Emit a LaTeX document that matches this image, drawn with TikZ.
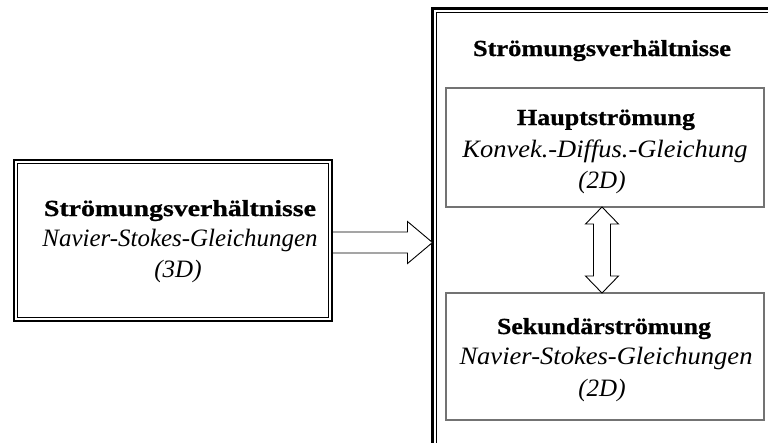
\documentclass[tikz,border=0pt]{standalone}
\usepackage{fontspec}
\usepackage{graphicx}
\setmainfont{Liberation Serif}[BoldFeatures={FakeBold=0.8}]
\usetikzlibrary{calc}
\newcommand{\fw}[2]{\resizebox{#1pt}{\height}{#2}}
\tikzset{
  frameouter/.style={draw=black, line width=2.5pt, inner sep=0pt, outer sep=0pt},
  frameinner/.style={draw=black, line width=1pt},
  subbox/.style={draw=black!55, line width=1.3pt, inner sep=0pt, outer sep=0pt},
  bftxt/.style={font=\fontsize{23}{27}\selectfont\bfseries, anchor=base, inner sep=0pt},
  ittxt/.style={font=\fontsize{25}{29}\selectfont\itshape, anchor=base, inner sep=0pt},
  bigarrow/.style={draw=black, line width=0.9pt, fill=white, line join=miter}
}
\begin{document}
\begin{tikzpicture}[x=1pt, y=-1pt]
\path[use as bounding box] (0,0) rectangle (768,442);
\clip (0,0) rectangle (768,442);
\fill[white] (0,0) rectangle (768,442);

% left box
\node[frameouter, minimum width=318pt, minimum height=161pt] (L) at (173,240.5) {};
\draw[frameinner] ([shift={(3.5,3.5)}]L.north west) rectangle ([shift={(-3.5,-3.5)}]L.south east);
\node[bftxt] (Lt1) at (180,216) {\fw{272}{Strömungsverhältnisse}};
\node[ittxt] (Lt2) at (180,246) {\fw{275}{Navier-Stokes-Gleichungen}};
\node[ittxt] (Lt3) at (178,277) {(3D)};

% right box
\node[frameouter, minimum width=357.5pt, minimum height=461.5pt] (R) at (611.25,239.25) {};
\draw[frameinner] ([shift={(3.5,3.5)}]R.north west) rectangle ([shift={(-3.5,-3.5)}]R.south east);
\node[bftxt] (Rt) at (602,56) {\fw{258}{Strömungsverhältnisse}};

% inner boxes
\node[subbox, minimum width=318pt, minimum height=119pt] (H) at (605,147.5) {};
\node[bftxt] (Ht1) at (606,125) {\fw{178}{Hauptströmung}};
\node[ittxt] (Ht2) at (605,157) {\fw{285}{Konvek.-Diffus.-Gleichung}};
\node[ittxt] (Ht3) at (602,188) {(2D)};

\node[subbox, minimum width=318pt, minimum height=127pt] (S) at (605,356.5) {};
\node[bftxt] (St1) at (604,334) {\fw{214}{Sekundärströmung}};
\node[ittxt] (St2) at (606,364) {\fw{293}{Navier-Stokes-Gleichungen}};
\node[ittxt] (St3) at (602,396) {(2D)};

% horizontal arrow
\coordinate (hs) at ($(L.east)+(1.2,2)$);
\coordinate (ht) at (R.west |- hs);
\draw[bigarrow] ($(hs)+(0,-10.5)$) -- ($(ht)+(-25,-10.5)$) -- ($(ht)+(-25,-21)$) -- (ht)
  -- ($(ht)+(-25,21)$) -- ($(ht)+(-25,10.5)$) -- ($(hs)+(0,10.5)$);

% vertical double arrow
\coordinate (vt) at ($(H.south)+(-3,0)$);
\coordinate (vb) at ($(S.north)+(-3,0)$);
\draw[bigarrow] (vt) -- ($(vt)+(16.5,17)$) -- ($(vt)+(8.5,17)$) -- ($(vb)+(8.5,-17)$)
  -- ($(vb)+(16.5,-17)$) -- (vb) -- ($(vb)+(-16.5,-17)$) -- ($(vb)+(-8.5,-17)$)
  -- ($(vt)+(-8.5,17)$) -- ($(vt)+(-16.5,17)$) -- cycle;
\end{tikzpicture}
\end{document}
